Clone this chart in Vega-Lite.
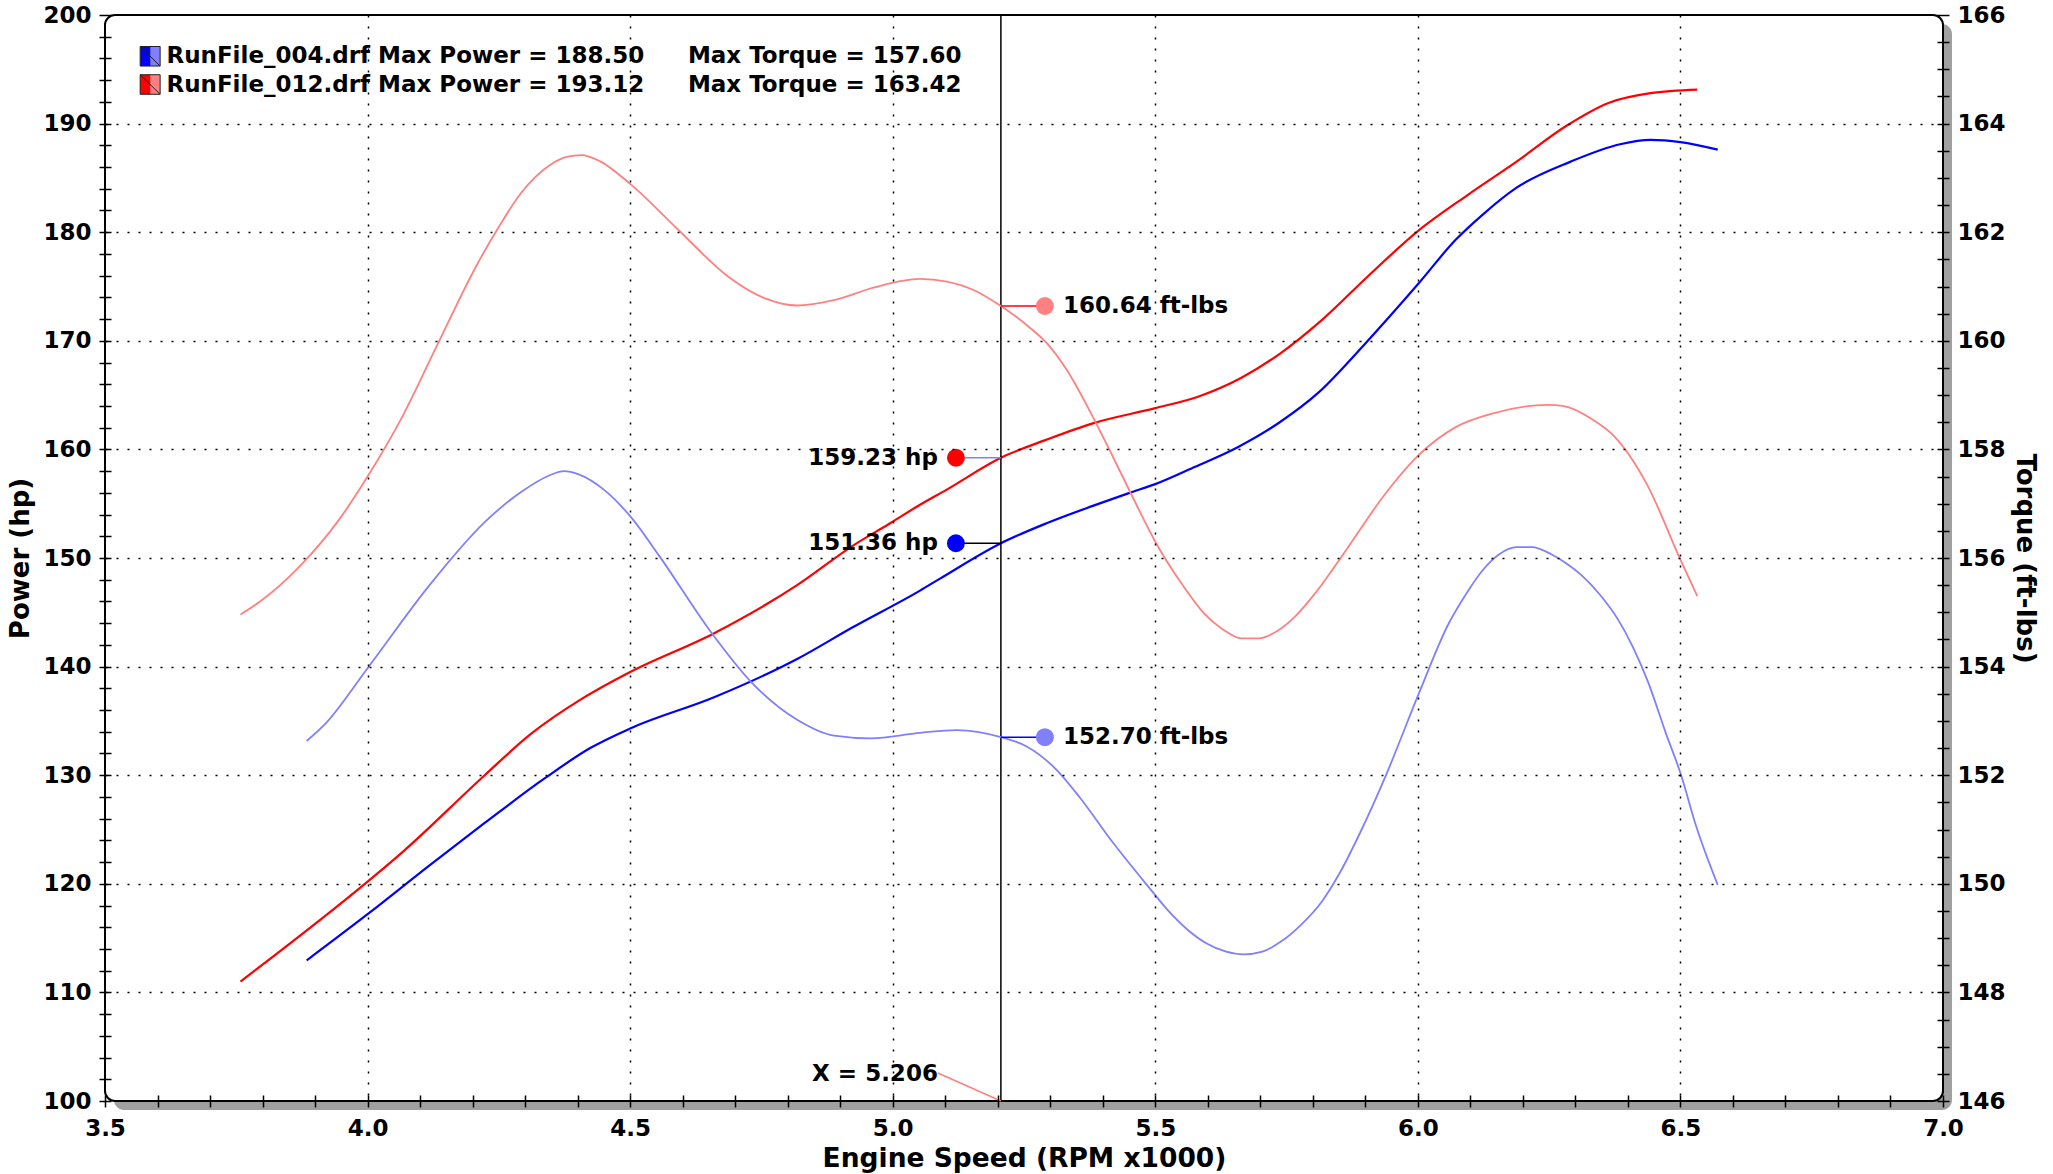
{
  "$schema": "https://vega.github.io/schema/vega-lite/v6.json",
  "width": 1838,
  "height": 1086,
  "autosize": {"type": "none"},
  "padding": {"left": 105, "top": 15, "right": 110, "bottom": 73},
  "background": "white",
  "config": {"view": {"stroke": null}, "font": "DejaVu Sans"},
  "datasets": {
    "power": [
      {"run": "RunFile_012", "rpm": 3.758, "hp": 111.0},
      {"run": "RunFile_012", "rpm": 4.0, "hp": 120.2},
      {"run": "RunFile_012", "rpm": 4.066, "hp": 122.9},
      {"run": "RunFile_012", "rpm": 4.223, "hp": 130.0},
      {"run": "RunFile_012", "rpm": 4.311, "hp": 133.8},
      {"run": "RunFile_012", "rpm": 4.407, "hp": 137.0},
      {"run": "RunFile_012", "rpm": 4.5, "hp": 139.5},
      {"run": "RunFile_012", "rpm": 4.661, "hp": 143.1},
      {"run": "RunFile_012", "rpm": 4.818, "hp": 147.5},
      {"run": "RunFile_012", "rpm": 4.923, "hp": 151.1},
      {"run": "RunFile_012", "rpm": 4.995, "hp": 153.2},
      {"run": "RunFile_012", "rpm": 5.052, "hp": 154.9},
      {"run": "RunFile_012", "rpm": 5.103, "hp": 156.3},
      {"run": "RunFile_012", "rpm": 5.206, "hp": 159.23},
      {"run": "RunFile_012", "rpm": 5.293, "hp": 160.9},
      {"run": "RunFile_012", "rpm": 5.381, "hp": 162.4},
      {"run": "RunFile_012", "rpm": 5.5, "hp": 163.8},
      {"run": "RunFile_012", "rpm": 5.584, "hp": 164.9},
      {"run": "RunFile_012", "rpm": 5.664, "hp": 166.6},
      {"run": "RunFile_012", "rpm": 5.737, "hp": 168.8},
      {"run": "RunFile_012", "rpm": 5.817, "hp": 171.9},
      {"run": "RunFile_012", "rpm": 5.904, "hp": 175.9},
      {"run": "RunFile_012", "rpm": 6.0, "hp": 180.1},
      {"run": "RunFile_012", "rpm": 6.094, "hp": 183.4},
      {"run": "RunFile_012", "rpm": 6.188, "hp": 186.5},
      {"run": "RunFile_012", "rpm": 6.283, "hp": 189.8},
      {"run": "RunFile_012", "rpm": 6.363, "hp": 191.9},
      {"run": "RunFile_012", "rpm": 6.443, "hp": 192.8},
      {"run": "RunFile_012", "rpm": 6.532, "hp": 193.12},
      {"run": "RunFile_004", "rpm": 3.884, "hp": 112.95},
      {"run": "RunFile_004", "rpm": 4.0, "hp": 117.2},
      {"run": "RunFile_004", "rpm": 4.118, "hp": 121.7},
      {"run": "RunFile_004", "rpm": 4.223, "hp": 125.6},
      {"run": "RunFile_004", "rpm": 4.337, "hp": 129.7},
      {"run": "RunFile_004", "rpm": 4.424, "hp": 132.5},
      {"run": "RunFile_004", "rpm": 4.5, "hp": 134.3},
      {"run": "RunFile_004", "rpm": 4.661, "hp": 137.2},
      {"run": "RunFile_004", "rpm": 4.818, "hp": 140.7},
      {"run": "RunFile_004", "rpm": 4.923, "hp": 143.6},
      {"run": "RunFile_004", "rpm": 5.052, "hp": 147.0},
      {"run": "RunFile_004", "rpm": 5.09, "hp": 148.1},
      {"run": "RunFile_004", "rpm": 5.206, "hp": 151.36},
      {"run": "RunFile_004", "rpm": 5.293, "hp": 153.2},
      {"run": "RunFile_004", "rpm": 5.381, "hp": 154.8},
      {"run": "RunFile_004", "rpm": 5.451, "hp": 156.0},
      {"run": "RunFile_004", "rpm": 5.5, "hp": 156.8},
      {"run": "RunFile_004", "rpm": 5.576, "hp": 158.4},
      {"run": "RunFile_004", "rpm": 5.657, "hp": 160.2},
      {"run": "RunFile_004", "rpm": 5.737, "hp": 162.5},
      {"run": "RunFile_004", "rpm": 5.81, "hp": 165.2},
      {"run": "RunFile_004", "rpm": 5.897, "hp": 169.6},
      {"run": "RunFile_004", "rpm": 6.0, "hp": 175.2},
      {"run": "RunFile_004", "rpm": 6.072, "hp": 179.3},
      {"run": "RunFile_004", "rpm": 6.123, "hp": 181.6},
      {"run": "RunFile_004", "rpm": 6.188, "hp": 184.1},
      {"run": "RunFile_004", "rpm": 6.291, "hp": 186.5},
      {"run": "RunFile_004", "rpm": 6.385, "hp": 188.1},
      {"run": "RunFile_004", "rpm": 6.443, "hp": 188.5},
      {"run": "RunFile_004", "rpm": 6.5, "hp": 188.3},
      {"run": "RunFile_004", "rpm": 6.571, "hp": 187.6}
    ],
    "torque": [
      {"run": "RunFile_012", "rpm": 3.758, "tq": 154.96},
      {"run": "RunFile_012", "rpm": 3.794, "tq": 155.19},
      {"run": "RunFile_012", "rpm": 3.873, "tq": 155.87},
      {"run": "RunFile_012", "rpm": 3.943, "tq": 156.67},
      {"run": "RunFile_012", "rpm": 4.0, "tq": 157.5},
      {"run": "RunFile_012", "rpm": 4.066, "tq": 158.6},
      {"run": "RunFile_012", "rpm": 4.136, "tq": 159.99},
      {"run": "RunFile_012", "rpm": 4.206, "tq": 161.36},
      {"run": "RunFile_012", "rpm": 4.25, "tq": 162.1},
      {"run": "RunFile_012", "rpm": 4.293, "tq": 162.73},
      {"run": "RunFile_012", "rpm": 4.346, "tq": 163.23},
      {"run": "RunFile_012", "rpm": 4.381, "tq": 163.39},
      {"run": "RunFile_012", "rpm": 4.407, "tq": 163.42},
      {"run": "RunFile_012", "rpm": 4.442, "tq": 163.31},
      {"run": "RunFile_012", "rpm": 4.5, "tq": 162.89},
      {"run": "RunFile_012", "rpm": 4.591, "tq": 162.05},
      {"run": "RunFile_012", "rpm": 4.687, "tq": 161.18},
      {"run": "RunFile_012", "rpm": 4.757, "tq": 160.78},
      {"run": "RunFile_012", "rpm": 4.818, "tq": 160.65},
      {"run": "RunFile_012", "rpm": 4.888, "tq": 160.75},
      {"run": "RunFile_012", "rpm": 4.967, "tq": 160.99},
      {"run": "RunFile_012", "rpm": 5.052, "tq": 161.14},
      {"run": "RunFile_012", "rpm": 5.103, "tq": 161.09},
      {"run": "RunFile_012", "rpm": 5.153, "tq": 160.94},
      {"run": "RunFile_012", "rpm": 5.206, "tq": 160.64},
      {"run": "RunFile_012", "rpm": 5.255, "tq": 160.29},
      {"run": "RunFile_012", "rpm": 5.293, "tq": 159.96},
      {"run": "RunFile_012", "rpm": 5.331, "tq": 159.47},
      {"run": "RunFile_012", "rpm": 5.381, "tq": 158.6},
      {"run": "RunFile_012", "rpm": 5.42, "tq": 157.85},
      {"run": "RunFile_012", "rpm": 5.458, "tq": 157.1},
      {"run": "RunFile_012", "rpm": 5.5, "tq": 156.3},
      {"run": "RunFile_012", "rpm": 5.555, "tq": 155.46},
      {"run": "RunFile_012", "rpm": 5.591, "tq": 155.0},
      {"run": "RunFile_012", "rpm": 5.628, "tq": 154.69},
      {"run": "RunFile_012", "rpm": 5.664, "tq": 154.52},
      {"run": "RunFile_012", "rpm": 5.697, "tq": 154.52},
      {"run": "RunFile_012", "rpm": 5.733, "tq": 154.66},
      {"run": "RunFile_012", "rpm": 5.766, "tq": 154.92},
      {"run": "RunFile_012", "rpm": 5.802, "tq": 155.32},
      {"run": "RunFile_012", "rpm": 5.853, "tq": 156.0},
      {"run": "RunFile_012", "rpm": 5.941, "tq": 157.22},
      {"run": "RunFile_012", "rpm": 6.0, "tq": 157.88},
      {"run": "RunFile_012", "rpm": 6.072, "tq": 158.41},
      {"run": "RunFile_012", "rpm": 6.145, "tq": 158.67},
      {"run": "RunFile_012", "rpm": 6.247, "tq": 158.82},
      {"run": "RunFile_012", "rpm": 6.276, "tq": 158.8},
      {"run": "RunFile_012", "rpm": 6.334, "tq": 158.54},
      {"run": "RunFile_012", "rpm": 6.374, "tq": 158.24},
      {"run": "RunFile_012", "rpm": 6.436, "tq": 157.36},
      {"run": "RunFile_012", "rpm": 6.5, "tq": 155.97},
      {"run": "RunFile_012", "rpm": 6.532, "tq": 155.3},
      {"run": "RunFile_004", "rpm": 3.884, "tq": 152.63},
      {"run": "RunFile_004", "rpm": 3.917, "tq": 152.92},
      {"run": "RunFile_004", "rpm": 4.0, "tq": 153.97},
      {"run": "RunFile_004", "rpm": 4.118, "tq": 155.5},
      {"run": "RunFile_004", "rpm": 4.223, "tq": 156.66},
      {"run": "RunFile_004", "rpm": 4.293, "tq": 157.22},
      {"run": "RunFile_004", "rpm": 4.346, "tq": 157.52},
      {"run": "RunFile_004", "rpm": 4.374, "tq": 157.6},
      {"run": "RunFile_004", "rpm": 4.402, "tq": 157.54},
      {"run": "RunFile_004", "rpm": 4.451, "tq": 157.25},
      {"run": "RunFile_004", "rpm": 4.5, "tq": 156.77},
      {"run": "RunFile_004", "rpm": 4.556, "tq": 156.03},
      {"run": "RunFile_004", "rpm": 4.652, "tq": 154.66},
      {"run": "RunFile_004", "rpm": 4.731, "tq": 153.71},
      {"run": "RunFile_004", "rpm": 4.818, "tq": 153.02},
      {"run": "RunFile_004", "rpm": 4.888, "tq": 152.73},
      {"run": "RunFile_004", "rpm": 4.958, "tq": 152.68},
      {"run": "RunFile_004", "rpm": 5.052, "tq": 152.78},
      {"run": "RunFile_004", "rpm": 5.122, "tq": 152.83},
      {"run": "RunFile_004", "rpm": 5.206, "tq": 152.7},
      {"run": "RunFile_004", "rpm": 5.255, "tq": 152.53},
      {"run": "RunFile_004", "rpm": 5.312, "tq": 152.1},
      {"run": "RunFile_004", "rpm": 5.357, "tq": 151.58},
      {"run": "RunFile_004", "rpm": 5.42, "tq": 150.75},
      {"run": "RunFile_004", "rpm": 5.489, "tq": 149.92},
      {"run": "RunFile_004", "rpm": 5.525, "tq": 149.5},
      {"run": "RunFile_004", "rpm": 5.562, "tq": 149.15},
      {"run": "RunFile_004", "rpm": 5.598, "tq": 148.9},
      {"run": "RunFile_004", "rpm": 5.635, "tq": 148.75},
      {"run": "RunFile_004", "rpm": 5.668, "tq": 148.7},
      {"run": "RunFile_004", "rpm": 5.704, "tq": 148.75},
      {"run": "RunFile_004", "rpm": 5.74, "tq": 148.94},
      {"run": "RunFile_004", "rpm": 5.777, "tq": 149.24},
      {"run": "RunFile_004", "rpm": 5.817, "tq": 149.67},
      {"run": "RunFile_004", "rpm": 5.853, "tq": 150.23},
      {"run": "RunFile_004", "rpm": 5.89, "tq": 150.94},
      {"run": "RunFile_004", "rpm": 5.941, "tq": 152.04},
      {"run": "RunFile_004", "rpm": 6.0, "tq": 153.46},
      {"run": "RunFile_004", "rpm": 6.058, "tq": 154.78},
      {"run": "RunFile_004", "rpm": 6.094, "tq": 155.37},
      {"run": "RunFile_004", "rpm": 6.123, "tq": 155.77},
      {"run": "RunFile_004", "rpm": 6.155, "tq": 156.07},
      {"run": "RunFile_004", "rpm": 6.188, "tq": 156.2},
      {"run": "RunFile_004", "rpm": 6.217, "tq": 156.2},
      {"run": "RunFile_004", "rpm": 6.254, "tq": 156.07},
      {"run": "RunFile_004", "rpm": 6.283, "tq": 155.9},
      {"run": "RunFile_004", "rpm": 6.312, "tq": 155.68},
      {"run": "RunFile_004", "rpm": 6.348, "tq": 155.31},
      {"run": "RunFile_004", "rpm": 6.381, "tq": 154.87},
      {"run": "RunFile_004", "rpm": 6.41, "tq": 154.35},
      {"run": "RunFile_004", "rpm": 6.439, "tq": 153.7},
      {"run": "RunFile_004", "rpm": 6.472, "tq": 152.78},
      {"run": "RunFile_004", "rpm": 6.5, "tq": 152.04},
      {"run": "RunFile_004", "rpm": 6.53, "tq": 151.06},
      {"run": "RunFile_004", "rpm": 6.571, "tq": 149.98}
    ],
    "cursorHp": [
      {"run": "RunFile_012", "rpm": 5.206, "hp": 159.23, "label": "159.23 hp"},
      {"run": "RunFile_004", "rpm": 5.206, "hp": 151.36, "label": "151.36 hp"}
    ],
    "cursorTq": [
      {"run": "RunFile_012", "rpm": 5.206, "tq": 160.64, "label": "160.64 ft-lbs"},
      {"run": "RunFile_004", "rpm": 5.206, "tq": 152.7, "label": "152.70 ft-lbs"}
    ],
    "legend": [
      {"run": "RunFile_004", "power": "RunFile_004.drf Max Power = 188.50", "torque": "Max Torque = 157.60"},
      {"run": "RunFile_012", "power": "RunFile_012.drf Max Power = 193.12", "torque": "Max Torque = 163.42"}
    ]
  },
  "layer": [
    {
      "layer": [
        {
          "data": {"name": "power"},
          "transform": [{"filter": "datum.run == 'RunFile_012'"}],
          "mark": {"type": "line", "color": "#FF0000", "strokeWidth": 2, "interpolate": "monotone", "opacity": 0},
          "encoding": {
            "x": {
              "field": "rpm", "type": "quantitative",
              "scale": {"domain": [3.5, 7], "nice": false, "zero": false},
              "axis": {
                "values": [3.5, 3.6, 3.7, 3.8, 3.9, 4.0, 4.1, 4.2, 4.3, 4.4, 4.5, 4.6, 4.7, 4.8, 4.9, 5.0, 5.1, 5.2, 5.3, 5.4, 5.5, 5.6, 5.7, 5.8, 5.9, 6.0, 6.1, 6.2, 6.3, 6.4, 6.5, 6.6, 6.7, 6.8, 6.9, 7.0],
                "tickCount": 200,
                "labelExpr": "abs(datum.value*2 - round(datum.value*2)) < 0.001 ? format(datum.value, '.1f') : ''",
                "labelOverlap": false, "labelFlush": false, "labelBound": false,
                "title": "Engine Speed (RPM x1000)",
                "domain": false,
                "offset": -6, "tickSize": 12, "tickWidth": 1.5, "tickColor": "black",
                "labelPadding": 10, "labelFont": "DejaVu Sans", "labelFontWeight": "bold", "labelFontSize": 23, "labelColor": "black",
                "titleFont": "DejaVu Sans", "titleFontWeight": "bold", "titleFontSize": 26.5, "titleColor": "black", "titlePadding": 5,
                "grid": true, "gridColor": "black", "gridDash": [2, 9], "gridWidth": 1.5,
                "gridOpacity": {"condition": {"test": "abs(datum.value*2 - round(datum.value*2)) < 0.001 && datum.value > 3.6 && datum.value < 6.9", "value": 1}, "value": 0},
                "zindex": 1
              }
            },
            "y": {
              "field": "hp", "type": "quantitative",
              "scale": {"domain": [100, 200], "nice": false, "zero": false},
              "axis": {
                "orient": "left",
                "values": [100, 102, 104, 106, 108, 110, 112, 114, 116, 118, 120, 122, 124, 126, 128, 130, 132, 134, 136, 138, 140, 142, 144, 146, 148, 150, 152, 154, 156, 158, 160, 162, 164, 166, 168, 170, 172, 174, 176, 178, 180, 182, 184, 186, 188, 190, 192, 194, 196, 198, 200],
                "tickCount": 200,
                "labelExpr": "datum.value % 10 == 0 ? format(datum.value, 'd') : ''",
                "labelOverlap": false, "labelBound": false, "labelFlush": false,
                "title": "Power (hp)",
                "domain": false,
                "offset": -6, "tickSize": 12, "tickWidth": 1.5, "tickColor": "black",
                "labelPadding": 8, "labelFont": "DejaVu Sans", "labelFontWeight": "bold", "labelFontSize": 23, "labelColor": "black",
                "titleFont": "DejaVu Sans", "titleFontWeight": "bold", "titleFontSize": 26, "titleColor": "black", "titlePadding": 9,
                "grid": true, "gridColor": "black", "gridDash": [2, 9], "gridWidth": 1.5,
                "gridOpacity": {"condition": {"test": "datum.value % 10 == 0 && datum.value > 100 && datum.value < 200", "value": 1}, "value": 0},
                "zindex": 1
              }
            }
          }
        },
        {
          "data": {"values": [{}]},
          "mark": {"type": "rect", "fill": "#A0A0A0", "cornerRadius": 10, "xOffset": 9, "x2Offset": 9, "yOffset": 9, "y2Offset": 9},
          "encoding": {
            "x": {"datum": 3.5, "type": "quantitative"},
            "x2": {"datum": 7.0},
            "y": {"datum": 100, "type": "quantitative"},
            "y2": {"datum": 200}
          }
        },
        {
          "data": {"values": [{}]},
          "mark": {"type": "rect", "fill": "white", "stroke": "black", "strokeWidth": 2, "cornerRadius": 10},
          "encoding": {
            "x": {"datum": 3.5, "type": "quantitative"},
            "x2": {"datum": 7.0},
            "y": {"datum": 100, "type": "quantitative"},
            "y2": {"datum": 200}
          }
        },
        {
          "data": {"name": "power"},
          "transform": [{"filter": "datum.run == 'RunFile_012'"}],
          "mark": {"type": "line", "color": "#FF0000", "strokeWidth": 2.2, "interpolate": "monotone"},
          "encoding": {
            "x": {"field": "rpm", "type": "quantitative"},
            "y": {"field": "hp", "type": "quantitative"}
          }
        },
        {
          "data": {"name": "power"},
          "transform": [{"filter": "datum.run == 'RunFile_004'"}],
          "mark": {"type": "line", "color": "#0000FF", "strokeWidth": 2.2, "interpolate": "monotone"},
          "encoding": {
            "x": {"field": "rpm", "type": "quantitative"},
            "y": {"field": "hp", "type": "quantitative"}
          }
        },
        {
          "data": {"values": [{}]},
          "mark": {"type": "rule", "color": "black", "strokeWidth": 1.5},
          "encoding": {
            "x": {"datum": 5.206, "type": "quantitative"}
          }
        },
        {
          "data": {"values": [{}]},
          "mark": {"type": "rule", "color": "#FF8080", "strokeWidth": 1.5, "x2Offset": -63, "y2Offset": -28},
          "encoding": {
            "x": {"datum": 5.206, "type": "quantitative"},
            "y": {"datum": 100, "type": "quantitative"},
            "x2": {"datum": 5.206},
            "y2": {"datum": 100}
          }
        },
        {
          "data": {"values": [{}]},
          "mark": {"type": "text", "align": "right", "baseline": "middle", "xOffset": -63, "yOffset": -27, "font": "DejaVu Sans", "fontWeight": "bold", "fontSize": 23, "color": "black"},
          "encoding": {
            "x": {"datum": 5.206, "type": "quantitative"},
            "y": {"datum": 100, "type": "quantitative"},
            "text": {"value": "X = 5.206"}
          }
        },
        {
          "data": {"name": "cursorHp"},
          "transform": [{"filter": "datum.run == 'RunFile_012'"}],
          "mark": {"type": "rule", "color": "#8080FF", "strokeWidth": 1.5, "x2Offset": -45},
          "encoding": {
            "x": {"field": "rpm", "type": "quantitative"},
            "x2": {"field": "rpm"},
            "y": {"field": "hp", "type": "quantitative"}
          }
        },
        {
          "data": {"name": "cursorHp"},
          "transform": [{"filter": "datum.run == 'RunFile_004'"}],
          "mark": {"type": "rule", "color": "black", "strokeWidth": 1.5, "x2Offset": -45},
          "encoding": {
            "x": {"field": "rpm", "type": "quantitative"},
            "x2": {"field": "rpm"},
            "y": {"field": "hp", "type": "quantitative"}
          }
        },
        {
          "data": {"name": "cursorHp"},
          "transform": [{"filter": "datum.run == 'RunFile_012'"}],
          "mark": {"type": "point", "filled": true, "opacity": 1, "size": 320, "xOffset": -45, "shape": "circle", "color": "#FF0000"},
          "encoding": {
            "x": {"field": "rpm", "type": "quantitative"},
            "y": {"field": "hp", "type": "quantitative"}
          }
        },
        {
          "data": {"name": "cursorHp"},
          "transform": [{"filter": "datum.run == 'RunFile_004'"}],
          "mark": {"type": "point", "filled": true, "opacity": 1, "size": 320, "xOffset": -45, "shape": "circle", "color": "#0000FF"},
          "encoding": {
            "x": {"field": "rpm", "type": "quantitative"},
            "y": {"field": "hp", "type": "quantitative"}
          }
        },
        {
          "data": {"name": "cursorHp"},
          "mark": {"type": "text", "align": "right", "baseline": "middle", "xOffset": -63, "font": "DejaVu Sans", "fontWeight": "bold", "fontSize": 23, "color": "black"},
          "encoding": {
            "x": {"field": "rpm", "type": "quantitative"},
            "y": {"field": "hp", "type": "quantitative"},
            "text": {"field": "label"}
          }
        },
        {
          "data": {"values": [{}]},
          "mark": {"type": "rect", "fill": "#0000FF"},
          "encoding": {
            "x": {"datum": 3.567, "type": "quantitative"},
            "x2": {"datum": 3.587},
            "y": {"datum": 195.3, "type": "quantitative"},
            "y2": {"datum": 197.1}
          }
        },
        {
          "data": {"values": [{}]},
          "mark": {"type": "rect", "fill": "#8080FF"},
          "encoding": {
            "x": {"datum": 3.587, "type": "quantitative"},
            "x2": {"datum": 3.605},
            "y": {"datum": 195.3, "type": "quantitative"},
            "y2": {"datum": 197.1}
          }
        },
        {
          "data": {"values": [{}]},
          "mark": {"type": "rect", "fill": "#FF0000"},
          "encoding": {
            "x": {"datum": 3.567, "type": "quantitative"},
            "x2": {"datum": 3.587},
            "y": {"datum": 192.7, "type": "quantitative"},
            "y2": {"datum": 194.5}
          }
        },
        {
          "data": {"values": [{}]},
          "mark": {"type": "rect", "fill": "#FF8080"},
          "encoding": {
            "x": {"datum": 3.587, "type": "quantitative"},
            "x2": {"datum": 3.605},
            "y": {"datum": 192.7, "type": "quantitative"},
            "y2": {"datum": 194.5}
          }
        },
        {
          "data": {"values": [{}]},
          "mark": {"type": "rect", "fillOpacity": 0, "stroke": "#202020", "strokeWidth": 1},
          "encoding": {
            "x": {"datum": 3.567, "type": "quantitative"},
            "x2": {"datum": 3.605},
            "y": {"datum": 195.3, "type": "quantitative"},
            "y2": {"datum": 197.1}
          }
        },
        {
          "data": {"values": [{}]},
          "mark": {"type": "rect", "fillOpacity": 0, "stroke": "#202020", "strokeWidth": 1},
          "encoding": {
            "x": {"datum": 3.567, "type": "quantitative"},
            "x2": {"datum": 3.605},
            "y": {"datum": 192.7, "type": "quantitative"},
            "y2": {"datum": 194.5}
          }
        },
        {
          "data": {"values": [{}]},
          "mark": {"type": "rule", "color": "#202020", "strokeWidth": 1},
          "encoding": {
            "x": {"datum": 3.567, "type": "quantitative"},
            "x2": {"datum": 3.605},
            "y": {"datum": 197.1, "type": "quantitative"},
            "y2": {"datum": 195.3}
          }
        },
        {
          "data": {"values": [{}]},
          "mark": {"type": "rule", "color": "#202020", "strokeWidth": 1},
          "encoding": {
            "x": {"datum": 3.567, "type": "quantitative"},
            "x2": {"datum": 3.605},
            "y": {"datum": 194.5, "type": "quantitative"},
            "y2": {"datum": 192.7}
          }
        },
        {
          "data": {"name": "legend"},
          "transform": [{"filter": "datum.run == 'RunFile_004'"}],
          "mark": {"type": "text", "align": "left", "baseline": "middle", "font": "DejaVu Sans", "fontWeight": "bold", "fontSize": 23, "color": "black"},
          "encoding": {
            "x": {"datum": 3.617, "type": "quantitative"},
            "y": {"datum": 196.2, "type": "quantitative"},
            "text": {"field": "power"}
          }
        },
        {
          "data": {"name": "legend"},
          "transform": [{"filter": "datum.run == 'RunFile_004'"}],
          "mark": {"type": "text", "align": "left", "baseline": "middle", "font": "DejaVu Sans", "fontWeight": "bold", "fontSize": 23, "color": "black"},
          "encoding": {
            "x": {"datum": 4.61, "type": "quantitative"},
            "y": {"datum": 196.2, "type": "quantitative"},
            "text": {"field": "torque"}
          }
        },
        {
          "data": {"name": "legend"},
          "transform": [{"filter": "datum.run == 'RunFile_012'"}],
          "mark": {"type": "text", "align": "left", "baseline": "middle", "font": "DejaVu Sans", "fontWeight": "bold", "fontSize": 23, "color": "black"},
          "encoding": {
            "x": {"datum": 3.617, "type": "quantitative"},
            "y": {"datum": 193.6, "type": "quantitative"},
            "text": {"field": "power"}
          }
        },
        {
          "data": {"name": "legend"},
          "transform": [{"filter": "datum.run == 'RunFile_012'"}],
          "mark": {"type": "text", "align": "left", "baseline": "middle", "font": "DejaVu Sans", "fontWeight": "bold", "fontSize": 23, "color": "black"},
          "encoding": {
            "x": {"datum": 4.61, "type": "quantitative"},
            "y": {"datum": 193.6, "type": "quantitative"},
            "text": {"field": "torque"}
          }
        }
      ]
    },
    {
      "layer": [
        {
          "data": {"name": "torque"},
          "transform": [{"filter": "datum.run == 'RunFile_012'"}],
          "mark": {"type": "line", "color": "#FF8080", "strokeWidth": 1.8, "interpolate": "monotone"},
          "encoding": {
            "x": {"field": "rpm", "type": "quantitative"},
            "y": {
              "field": "tq", "type": "quantitative",
              "scale": {"domain": [146, 166], "nice": false, "zero": false},
              "axis": {
                "orient": "right",
                "values": [146, 146.5, 147, 147.5, 148, 148.5, 149, 149.5, 150, 150.5, 151, 151.5, 152, 152.5, 153, 153.5, 154, 154.5, 155, 155.5, 156, 156.5, 157, 157.5, 158, 158.5, 159, 159.5, 160, 160.5, 161, 161.5, 162, 162.5, 163, 163.5, 164, 164.5, 165, 165.5, 166],
                "tickCount": 200,
                "labelExpr": "datum.value % 2 == 0 ? format(datum.value, 'd') : ''",
                "labelOverlap": false, "labelBound": false, "labelFlush": false,
                "title": "Torque (ft-lbs)",
                "titleAngle": 90,
                "domain": false, "grid": false,
                "offset": -6, "tickSize": 12, "tickWidth": 1.5, "tickColor": "black",
                "labelPadding": 8, "labelFont": "DejaVu Sans", "labelFontWeight": "bold", "labelFontSize": 23, "labelColor": "black",
                "titleFont": "DejaVu Sans", "titleFontWeight": "bold", "titleFontSize": 26, "titleColor": "black", "titlePadding": 6,
                "zindex": 1
              }
            }
          }
        },
        {
          "data": {"name": "torque"},
          "transform": [{"filter": "datum.run == 'RunFile_004'"}],
          "mark": {"type": "line", "color": "#8080FF", "strokeWidth": 1.8, "interpolate": "monotone"},
          "encoding": {
            "x": {"field": "rpm", "type": "quantitative"},
            "y": {"field": "tq", "type": "quantitative"}
          }
        },
        {
          "data": {"name": "cursorTq"},
          "transform": [{"filter": "datum.run == 'RunFile_012'"}],
          "mark": {"type": "rule", "color": "#FF0000", "strokeWidth": 1.5, "x2Offset": 44},
          "encoding": {
            "x": {"field": "rpm", "type": "quantitative"},
            "x2": {"field": "rpm"},
            "y": {"field": "tq", "type": "quantitative"}
          }
        },
        {
          "data": {"name": "cursorTq"},
          "transform": [{"filter": "datum.run == 'RunFile_004'"}],
          "mark": {"type": "rule", "color": "#0000FF", "strokeWidth": 1.5, "x2Offset": 44},
          "encoding": {
            "x": {"field": "rpm", "type": "quantitative"},
            "x2": {"field": "rpm"},
            "y": {"field": "tq", "type": "quantitative"}
          }
        },
        {
          "data": {"name": "cursorTq"},
          "transform": [{"filter": "datum.run == 'RunFile_012'"}],
          "mark": {"type": "point", "filled": true, "opacity": 1, "size": 320, "xOffset": 44, "shape": "circle", "color": "#FF8080"},
          "encoding": {
            "x": {"field": "rpm", "type": "quantitative"},
            "y": {"field": "tq", "type": "quantitative"}
          }
        },
        {
          "data": {"name": "cursorTq"},
          "transform": [{"filter": "datum.run == 'RunFile_004'"}],
          "mark": {"type": "point", "filled": true, "opacity": 1, "size": 320, "xOffset": 44, "shape": "circle", "color": "#8080FF"},
          "encoding": {
            "x": {"field": "rpm", "type": "quantitative"},
            "y": {"field": "tq", "type": "quantitative"}
          }
        },
        {
          "data": {"name": "cursorTq"},
          "mark": {"type": "text", "align": "left", "baseline": "middle", "xOffset": 62, "font": "DejaVu Sans", "fontWeight": "bold", "fontSize": 23, "color": "black"},
          "encoding": {
            "x": {"field": "rpm", "type": "quantitative"},
            "y": {"field": "tq", "type": "quantitative"},
            "text": {"field": "label"}
          }
        }
      ]
    }
  ],
  "resolve": {"scale": {"y": "independent"}}
}
